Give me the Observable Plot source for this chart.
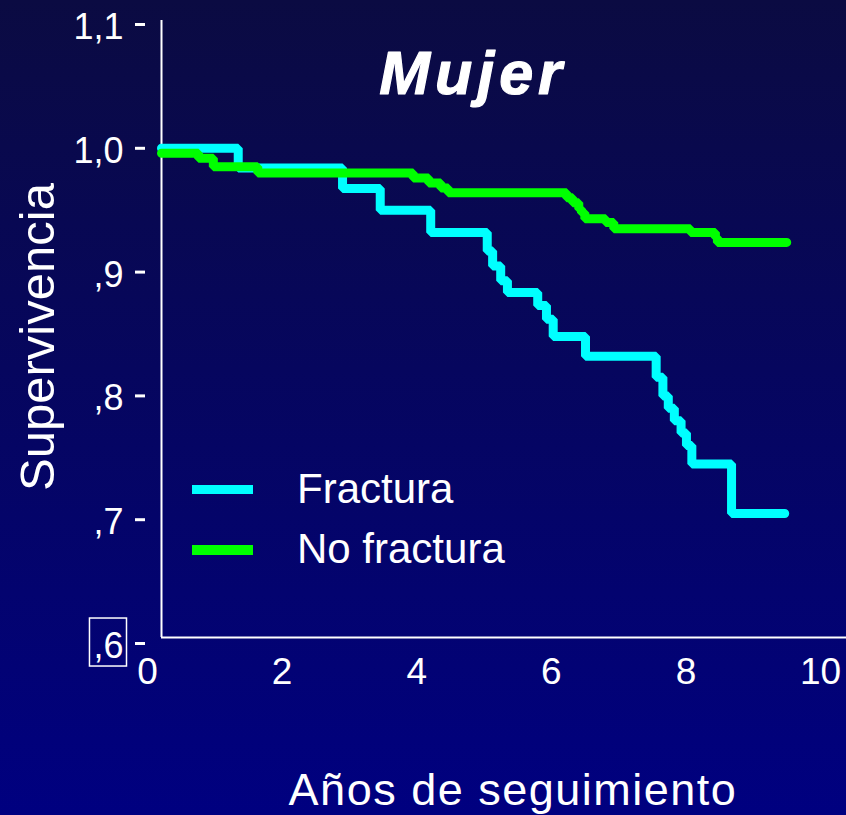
<!DOCTYPE html>
<html><head><meta charset="utf-8">
<script src="https://cdn.jsdelivr.net/npm/d3@7"></script>
<script src="https://cdn.jsdelivr.net/npm/@observablehq/plot@0.6"></script>
<style>
html,body{margin:0;padding:0;background:#000060;}
#wrap{position:relative;width:846px;height:815px;overflow:hidden;background:linear-gradient(to bottom,#0b0b42 0%,#000080 100%);font-family:"Liberation Sans",Arial,sans-serif;color:#fff;}
#wrap svg{position:absolute;left:0;top:0;}
.sw{position:absolute;left:192px;width:61px;}
.lt{position:absolute;left:297px;font-size:42px;line-height:42px;white-space:nowrap;}
</style></head><body><div id="wrap"></div>
<script>
// Kaplan–Meier curves (time in years, survival)
const fracturaTime = [0, 1.14, 2.69, 3.25, 4.00, 4.84, 4.92, 5.04, 5.14, 5.59, 5.72, 5.82, 6.30, 7.35, 7.45, 7.53, 7.62, 7.72, 7.80, 7.88, 8.47, 9.26];
const fracturaSurv = [1.0, 0.984, 0.9675, 0.950, 0.932, 0.917, 0.905, 0.893, 0.8835, 0.873, 0.862, 0.848, 0.832, 0.815, 0.800, 0.790, 0.780, 0.770, 0.760, 0.745, 0.705, 0.705];
const noFracturaTime = [0, 0.55, 0.77, 1.43, 3.74, 3.97, 4.15, 4.26, 6.02, 6.11, 6.20, 6.24, 6.29, 6.60, 6.72, 7.86, 8.23, 8.26, 9.29];
const noFracturaSurv = [0.996, 0.992, 0.985, 0.980, 0.976, 0.972, 0.968, 0.964, 0.960, 0.956, 0.951, 0.948, 0.943, 0.940, 0.935, 0.932, 0.928, 0.924, 0.924];

const seriesNames = ["Fractura", "No fractura"];
const seriesColors = ["#00ffff", "#00ff00"];
const xTicks = [0, 2, 4, 6, 8, 10];
const xTickLabels = ["0", "2", "4", "6", "8", "10"];
const yTicks = [0.6, 0.7, 0.8, 0.9, 1.0, 1.1];
const yTickLabels = [",6", ",7", ",8", ",9", "1,0", "1,1"];
const titleText = "Mujer";
const xLabel = "Años de seguimiento";
const yLabel = "Supervivencia";

const fractura = fracturaTime.map((t, i) => ({t, s: fracturaSurv[i]}));
const noFractura = noFracturaTime.map((t, i) => ({t, s: noFracturaSurv[i]}));

const font = '"Liberation Sans", Arial, sans-serif';

const chart = Plot.plot({
  width: 846,
  height: 815,
  marginLeft: 161,
  marginRight: 0,
  marginTop: 24,
  marginBottom: 172,
  x: {domain: [0, 10.178], label: null},
  y: {domain: [0.6, 1.1], label: null},
  style: {background: "transparent", color: "white", fontFamily: font},
  marks: [
    // y tick marks
    Plot.axisY({ticks: yTicks, tickFormat: () => "", tickSize: 10, dx: -16, stroke: "white", strokeWidth: 3, label: null}),
    // y tick labels
    Plot.axisY({ticks: yTicks, tickFormat: d => yTickLabels[yTicks.indexOf(d)], tickSize: 0, tickPadding: 22, dx: -16, dy: 3, fontSize: 36, fill: "white", label: null}),
    // x tick labels
    Plot.axisX({ticks: xTicks, tickFormat: d => xTickLabels[xTicks.indexOf(d)], tickSize: 0, tickPadding: 14, dx: -14, fontSize: 37, fill: "white", label: null}),
    // axis lines
    Plot.ruleY([0.6], {dy: -6, stroke: "white", strokeWidth: 2}),
    Plot.ruleX([0], {stroke: "white", strokeWidth: 2, insetTop: -4, insetBottom: 6}),
    // curves
    Plot.line(fractura, {x: "t", y: "s", curve: "step-after", stroke: seriesColors[0], strokeWidth: 9, strokeLinejoin: "miter"}),
    Plot.line(noFractura, {x: "t", y: "s", curve: "step-after", stroke: seriesColors[1], strokeWidth: 9, strokeLinejoin: "miter"}),
    // title
    Plot.text([titleText], {frameAnchor: "top", dx: -31, dy: 69, lineAnchor: "bottom", fontSize: 61, fontWeight: "bold", fontStyle: "italic", fill: "white", stroke: "white", strokeWidth: 1.2, fontFamily: font}),
    // axis titles
    Plot.text([xLabel], {frameAnchor: "bottom", dx: 9, dy: 161, lineAnchor: "bottom", fontSize: 45, fill: "white", fontFamily: font}),
    Plot.text([yLabel], {frameAnchor: "left", textAnchor: "middle", rotate: -90, dx: -108, dy: 3, lineAnchor: "bottom", fontSize: 49, fill: "white", fontFamily: font})
  ]
});

const wrap = document.getElementById("wrap");
wrap.appendChild(chart);

// letter spacing on the titles to match the wide lettering
d3.select(chart).selectAll("text").each(function() {
  const t = this.textContent;
  if (t === titleText) this.setAttribute("letter-spacing", "5");
  if (t === xLabel) this.setAttribute("letter-spacing", "1.5");
});

// box around the ",6" tick label
const svgRect = chart.getBoundingClientRect();
d3.select(chart).selectAll("text").each(function() {
  if (this.textContent === yTickLabels[0]) {
    const r = this.getBoundingClientRect();
    d3.select(chart).append("rect")
      .attr("x", r.left - svgRect.left - 4)
      .attr("y", r.top - svgRect.top - 7)
      .attr("width", r.width + 7)
      .attr("height", r.height + 7)
      .attr("fill", "none")
      .attr("stroke", "white")
      .attr("stroke-width", 1.5);
  }
});

// legend
const legendTops = [{sw: 485, h: 9, tx: 468}, {sw: 545, h: 10, tx: 528}];
seriesNames.forEach((name, i) => {
  const s = document.createElement("div");
  s.className = "sw";
  s.style.top = legendTops[i].sw + "px";
  s.style.height = legendTops[i].h + "px";
  s.style.background = seriesColors[i];
  wrap.appendChild(s);
  const t = document.createElement("div");
  t.className = "lt";
  t.style.top = legendTops[i].tx + "px";
  t.textContent = name;
  wrap.appendChild(t);
});
</script>
</body></html>
